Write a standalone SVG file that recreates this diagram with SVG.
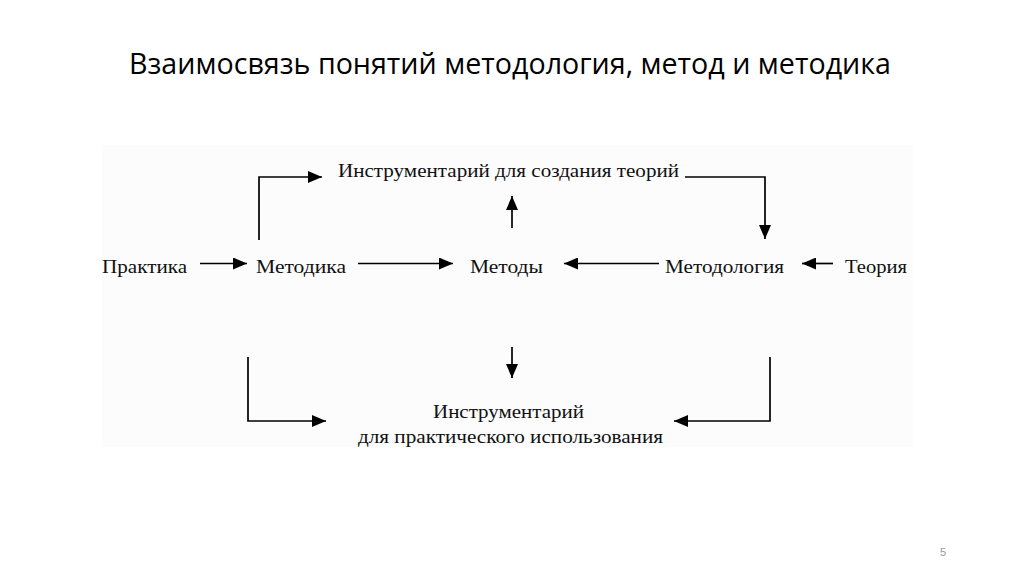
<svg xmlns="http://www.w3.org/2000/svg" width="1024" height="574" viewBox="0 0 1024 574">
<style>
.t{font-family:"Liberation Serif","Times New Roman",serif;font-size:19px;fill:#111}
.title{font-family:"Open Sans","Liberation Sans",sans-serif;font-size:30px;fill:#000}
.c{fill:none;stroke:#000;stroke-width:1.7}
</style>
<defs>
<marker id="ah" viewBox="0 0 14 12" refX="14" refY="6" markerWidth="14" markerHeight="12" markerUnits="userSpaceOnUse" orient="auto">
<path d="M0,0 L14,6 L0,12 Z" fill="#000"/>
</marker>
</defs>
<rect width="1024" height="574" fill="#fff"/>
<text class="title" x="129" y="74" textLength="762" lengthAdjust="spacingAndGlyphs">Взаимосвязь понятий методология, метод и методика</text>
<rect x="102" y="145" width="811" height="302" fill="#fcfcfc"/>
<g id="n-tools-theory"><text class="t" x="338" y="177" textLength="341" lengthAdjust="spacingAndGlyphs">Инструментарий для создания теорий</text></g>
<g id="n-practice"><text class="t" x="102" y="273" textLength="85" lengthAdjust="spacingAndGlyphs">Практика</text></g>
<g id="n-metodika"><text class="t" x="256" y="273" textLength="90" lengthAdjust="spacingAndGlyphs">Методика</text></g>
<g id="n-methods"><text class="t" x="470" y="273" textLength="73" lengthAdjust="spacingAndGlyphs">Методы</text></g>
<g id="n-methodology"><text class="t" x="665" y="273" textLength="119" lengthAdjust="spacingAndGlyphs">Методология</text></g>
<g id="n-theory"><text class="t" x="845" y="273" textLength="62" lengthAdjust="spacingAndGlyphs">Теория</text></g>
<g id="n-tools-practice">
<text class="t" x="433" y="418" textLength="151" lengthAdjust="spacingAndGlyphs">Инструментарий</text>
<text class="t" x="358" y="443" textLength="305" lengthAdjust="spacingAndGlyphs">для практического использования</text>
</g>
<g id="connectors">
<path class="c" d="M200,263.5 H247" marker-end="url(#ah)"/>
<path class="c" d="M358,263.5 H453" marker-end="url(#ah)"/>
<path class="c" d="M659,263.5 H564" marker-end="url(#ah)"/>
<path class="c" d="M833,263.5 H802" marker-end="url(#ah)"/>
<path class="c" d="M259,240 V177 H322" marker-end="url(#ah)"/>
<path class="c" d="M685,177 H765 V239" marker-end="url(#ah)"/>
<path class="c" d="M512,228 V196" marker-end="url(#ah)"/>
<path class="c" d="M512,347 V378" marker-end="url(#ah)"/>
<path class="c" d="M248,357 V421 H326" marker-end="url(#ah)"/>
<path class="c" d="M770,357 V421 H674" marker-end="url(#ah)"/>
</g>
<text x="943" y="556" font-family="'Liberation Sans',sans-serif" font-size="11" fill="#999" text-anchor="middle">5</text>
</svg>
